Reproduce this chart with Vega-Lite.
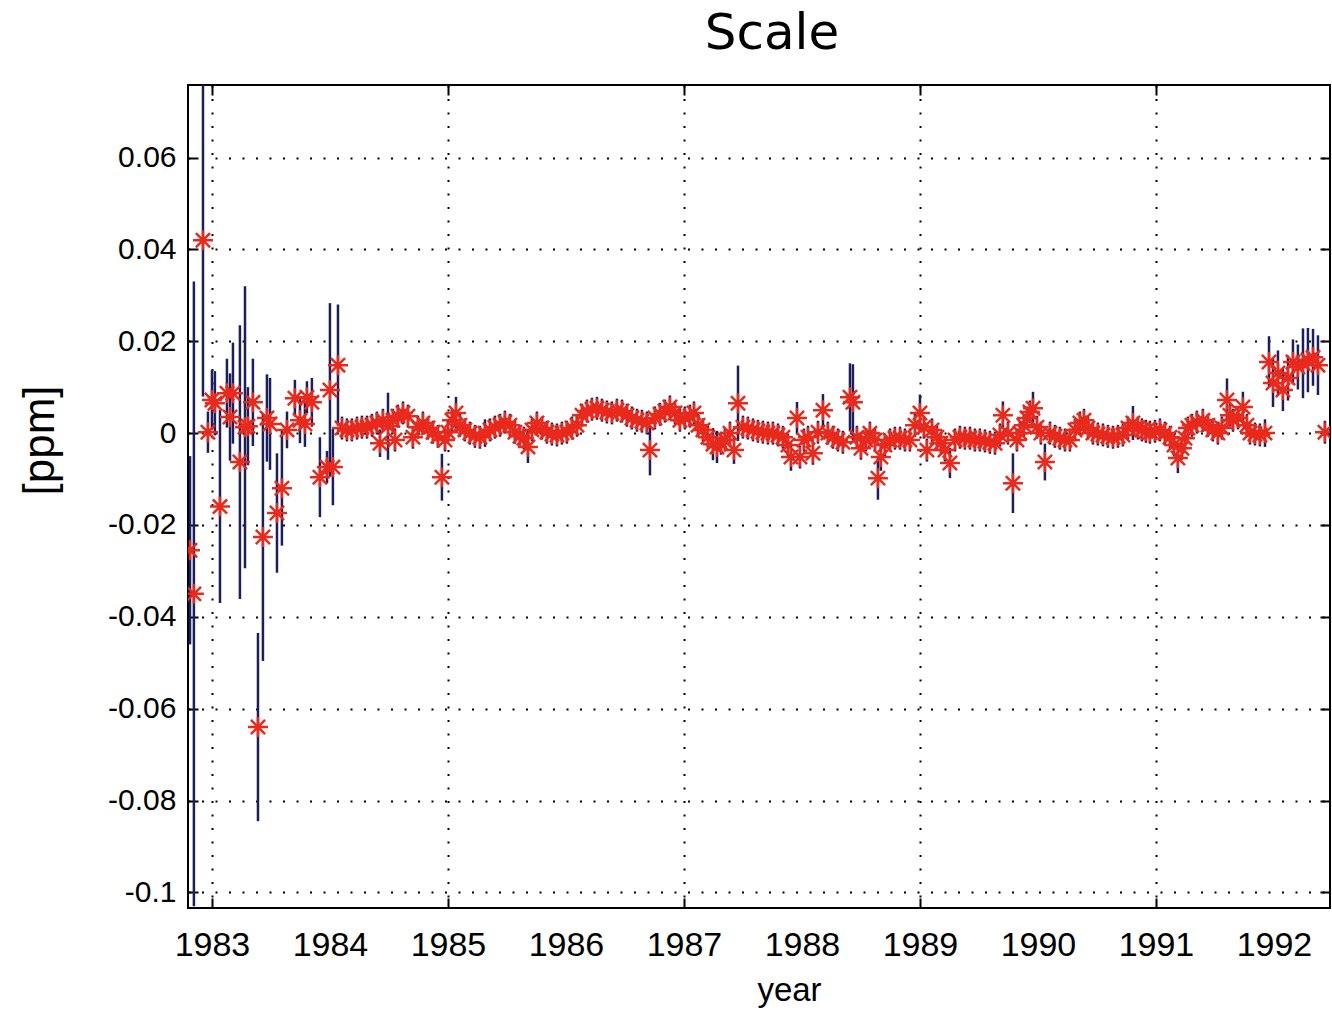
{
"$schema": "https://vega.github.io/schema/vega-lite/v6.json",
"width": 1142, "height": 823,
"autosize": {"type": "none"},
"padding": {"left": 188, "top": 85, "right": 2, "bottom": 102},
"background": "white",
"title": {"text": "Scale", "font": "DejaVu Sans", "fontSize": 50, "fontWeight": "normal", "color": "black", "anchor": "middle", "offset": 25, "dx": 13},
"config": {"view": {"stroke": "black", "strokeWidth": 2}},
"data": {"values": [
{"t":1982.814,"v":-0.0255,"e":0.0205},
{"t":1982.847,"v":-0.035,"e":0.068},
{"t":1982.924,"v":0.042,"e":0.034},
{"t":1982.966,"v":0.0002,"e":0.0045},
{"t":1983.0,"v":0.0072,"e":0.0065},
{"t":1983.025,"v":0.0065,"e":0.007},
{"t":1983.068,"v":-0.016,"e":0.021},
{"t":1983.127,"v":0.0087,"e":0.0075},
{"t":1983.153,"v":0.0035,"e":0.0095},
{"t":1983.178,"v":0.0087,"e":0.011},
{"t":1983.237,"v":-0.0063,"e":0.0298},
{"t":1983.280,"v":0.0013,"e":0.0307},
{"t":1983.305,"v":0.0015,"e":0.0085},
{"t":1983.347,"v":0.0067,"e":0.0095},
{"t":1983.390,"v":-0.064,"e":0.0205},
{"t":1983.432,"v":-0.0226,"e":0.027},
{"t":1983.466,"v":0.0033,"e":0.0095},
{"t":1983.492,"v":0.002,"e":0.01},
{"t":1983.551,"v":-0.0174,"e":0.013},
{"t":1983.593,"v":-0.012,"e":0.0125},
{"t":1983.636,"v":0.0007,"e":0.004},
{"t":1983.703,"v":0.0076,"e":0.004},
{"t":1983.746,"v":0.0028,"e":0.005},
{"t":1983.788,"v":0.002,"e":0.005},
{"t":1983.805,"v":0.0078,"e":0.0035},
{"t":1983.847,"v":0.0067,"e":0.0053},
{"t":1983.915,"v":-0.0096,"e":0.0087},
{"t":1983.975,"v":-0.0074,"e":0.0035},
{"t":1984.0,"v":0.0094,"e":0.0189},
{"t":1984.025,"v":-0.0074,"e":0.0083},
{"t":1984.068,"v":0.0148,"e":0.0132},
{"t":1984.102,"v":0.0011,"e":0.0025},
{"t":1984.144,"v":0.0007,"e":0.0025},
{"t":1984.186,"v":0.0007,"e":0.0025},
{"t":1984.229,"v":0.0011,"e":0.0025},
{"t":1984.271,"v":0.0013,"e":0.0025},
{"t":1984.314,"v":0.0013,"e":0.0025},
{"t":1984.356,"v":0.0017,"e":0.0025},
{"t":1984.398,"v":0.0022,"e":0.0025},
{"t":1984.424,"v":-0.0022,"e":0.003},
{"t":1984.449,"v":0.0028,"e":0.0025},
{"t":1984.492,"v":0.0015,"e":0.0073},
{"t":1984.534,"v":0.0028,"e":0.0025},
{"t":1984.551,"v":-0.0015,"e":0.0025},
{"t":1984.576,"v":0.0037,"e":0.0025},
{"t":1984.619,"v":0.0044,"e":0.0025},
{"t":1984.661,"v":0.0037,"e":0.0025},
{"t":1984.703,"v":-0.0009,"e":0.0025},
{"t":1984.746,"v":0.0013,"e":0.0025},
{"t":1984.788,"v":0.0022,"e":0.0025},
{"t":1984.831,"v":0.0011,"e":0.0025},
{"t":1984.873,"v":0.0002,"e":0.0025},
{"t":1984.915,"v":-0.0007,"e":0.0025},
{"t":1984.949,"v":-0.0096,"e":0.0051},
{"t":1984.975,"v":-0.0015,"e":0.0025},
{"t":1985.0,"v":0.0002,"e":0.0025},
{"t":1985.034,"v":0.0028,"e":0.0025},
{"t":1985.068,"v":0.0044,"e":0.0035},
{"t":1985.102,"v":0.0017,"e":0.0025},
{"t":1985.144,"v":0.0007,"e":0.0025},
{"t":1985.186,"v":0.0,"e":0.0025},
{"t":1985.229,"v":-0.0007,"e":0.0025},
{"t":1985.271,"v":-0.0009,"e":0.0025},
{"t":1985.314,"v":0.0,"e":0.003},
{"t":1985.356,"v":0.0007,"e":0.0025},
{"t":1985.398,"v":0.0013,"e":0.0025},
{"t":1985.441,"v":0.0017,"e":0.0025},
{"t":1985.483,"v":0.0024,"e":0.0025},
{"t":1985.525,"v":0.0017,"e":0.0025},
{"t":1985.568,"v":0.0002,"e":0.0025},
{"t":1985.610,"v":-0.0007,"e":0.0025},
{"t":1985.644,"v":-0.0011,"e":0.0025},
{"t":1985.678,"v":-0.003,"e":0.0035},
{"t":1985.712,"v":0.0007,"e":0.0025},
{"t":1985.754,"v":0.0022,"e":0.0025},
{"t":1985.797,"v":0.0011,"e":0.0025},
{"t":1985.839,"v":0.0002,"e":0.0025},
{"t":1985.881,"v":-0.0002,"e":0.0025},
{"t":1985.924,"v":-0.0004,"e":0.0025},
{"t":1985.966,"v":0.0,"e":0.0025},
{"t":1986.008,"v":0.0002,"e":0.0025},
{"t":1986.051,"v":0.0011,"e":0.0025},
{"t":1986.093,"v":0.0017,"e":0.0025},
{"t":1986.136,"v":0.0039,"e":0.0025},
{"t":1986.178,"v":0.0048,"e":0.0025},
{"t":1986.220,"v":0.0052,"e":0.0025},
{"t":1986.263,"v":0.0054,"e":0.0025},
{"t":1986.305,"v":0.005,"e":0.0025},
{"t":1986.347,"v":0.0046,"e":0.0025},
{"t":1986.390,"v":0.0044,"e":0.0025},
{"t":1986.432,"v":0.005,"e":0.0025},
{"t":1986.475,"v":0.0048,"e":0.0025},
{"t":1986.517,"v":0.0039,"e":0.0025},
{"t":1986.559,"v":0.0033,"e":0.0025},
{"t":1986.602,"v":0.0028,"e":0.0025},
{"t":1986.644,"v":0.0026,"e":0.0025},
{"t":1986.686,"v":0.0022,"e":0.0025},
{"t":1986.712,"v":-0.0037,"e":0.0055},
{"t":1986.754,"v":0.0033,"e":0.0025},
{"t":1986.797,"v":0.0041,"e":0.0025},
{"t":1986.839,"v":0.0048,"e":0.0025},
{"t":1986.881,"v":0.0057,"e":0.0025},
{"t":1986.924,"v":0.0044,"e":0.0025},
{"t":1986.966,"v":0.0028,"e":0.0025},
{"t":1987.008,"v":0.0033,"e":0.0025},
{"t":1987.051,"v":0.0037,"e":0.0025},
{"t":1987.085,"v":0.0044,"e":0.0025},
{"t":1987.119,"v":0.0017,"e":0.0025},
{"t":1987.161,"v":0.0007,"e":0.0025},
{"t":1987.203,"v":-0.0009,"e":0.0025},
{"t":1987.246,"v":-0.0024,"e":0.0035},
{"t":1987.280,"v":-0.003,"e":0.0035},
{"t":1987.314,"v":-0.0022,"e":0.0025},
{"t":1987.347,"v":-0.0015,"e":0.0025},
{"t":1987.390,"v":0.0,"e":0.0025},
{"t":1987.424,"v":-0.0037,"e":0.003},
{"t":1987.458,"v":0.0065,"e":0.0082},
{"t":1987.500,"v":0.0013,"e":0.0025},
{"t":1987.542,"v":0.0011,"e":0.0025},
{"t":1987.585,"v":0.0007,"e":0.0025},
{"t":1987.627,"v":0.0004,"e":0.0025},
{"t":1987.669,"v":0.0002,"e":0.0025},
{"t":1987.712,"v":0.0,"e":0.0025},
{"t":1987.754,"v":0.0,"e":0.0025},
{"t":1987.797,"v":-0.0004,"e":0.0025},
{"t":1987.839,"v":-0.0009,"e":0.0025},
{"t":1987.881,"v":-0.0026,"e":0.0025},
{"t":1987.907,"v":-0.0052,"e":0.003},
{"t":1987.958,"v":0.0033,"e":0.0035},
{"t":1987.983,"v":-0.0052,"e":0.0025},
{"t":1988.017,"v":-0.0015,"e":0.0025},
{"t":1988.051,"v":-0.0009,"e":0.0025},
{"t":1988.093,"v":-0.0044,"e":0.0025},
{"t":1988.136,"v":0.0002,"e":0.0025},
{"t":1988.178,"v":0.005,"e":0.0035},
{"t":1988.220,"v":0.0,"e":0.0025},
{"t":1988.263,"v":-0.0009,"e":0.0025},
{"t":1988.305,"v":-0.0015,"e":0.0025},
{"t":1988.347,"v":-0.002,"e":0.0025},
{"t":1988.407,"v":0.0078,"e":0.0074},
{"t":1988.432,"v":0.0067,"e":0.0083},
{"t":1988.466,"v":-0.0009,"e":0.0025},
{"t":1988.500,"v":-0.0033,"e":0.0025},
{"t":1988.542,"v":-0.0015,"e":0.0025},
{"t":1988.576,"v":0.0,"e":0.0025},
{"t":1988.619,"v":-0.0015,"e":0.0025},
{"t":1988.644,"v":-0.0098,"e":0.0047},
{"t":1988.669,"v":-0.0052,"e":0.003},
{"t":1988.703,"v":-0.0026,"e":0.0025},
{"t":1988.746,"v":-0.0015,"e":0.0025},
{"t":1988.788,"v":-0.0011,"e":0.0025},
{"t":1988.831,"v":-0.0011,"e":0.0025},
{"t":1988.873,"v":-0.0015,"e":0.0025},
{"t":1988.915,"v":-0.0015,"e":0.0025},
{"t":1988.958,"v":0.0017,"e":0.0025},
{"t":1989.000,"v":0.0044,"e":0.004},
{"t":1989.034,"v":0.0013,"e":0.0025},
{"t":1989.059,"v":-0.0037,"e":0.0025},
{"t":1989.102,"v":0.0007,"e":0.0025},
{"t":1989.144,"v":-0.0009,"e":0.0025},
{"t":1989.178,"v":-0.0022,"e":0.0025},
{"t":1989.212,"v":-0.0037,"e":0.0025},
{"t":1989.254,"v":-0.0065,"e":0.0033},
{"t":1989.297,"v":-0.0015,"e":0.0025},
{"t":1989.339,"v":-0.0009,"e":0.0025},
{"t":1989.381,"v":-0.0011,"e":0.0025},
{"t":1989.424,"v":-0.0011,"e":0.0025},
{"t":1989.466,"v":-0.0015,"e":0.0025},
{"t":1989.508,"v":-0.0015,"e":0.0025},
{"t":1989.551,"v":-0.0017,"e":0.0025},
{"t":1989.593,"v":-0.002,"e":0.0025},
{"t":1989.636,"v":-0.0022,"e":0.0025},
{"t":1989.678,"v":-0.0004,"e":0.0025},
{"t":1989.703,"v":0.0039,"e":0.003},
{"t":1989.746,"v":0.0,"e":0.0025},
{"t":1989.788,"v":-0.0109,"e":0.0065},
{"t":1989.822,"v":-0.0015,"e":0.0025},
{"t":1989.847,"v":0.0,"e":0.0025},
{"t":1989.881,"v":0.0017,"e":0.0025},
{"t":1989.907,"v":0.0033,"e":0.0025},
{"t":1989.932,"v":0.0046,"e":0.0025},
{"t":1989.958,"v":0.0054,"e":0.0036},
{"t":1989.992,"v":0.0013,"e":0.0025},
{"t":1990.025,"v":0.0,"e":0.0025},
{"t":1990.059,"v":-0.0063,"e":0.004},
{"t":1990.102,"v":0.0,"e":0.0025},
{"t":1990.144,"v":-0.0007,"e":0.0025},
{"t":1990.186,"v":-0.0011,"e":0.0025},
{"t":1990.229,"v":-0.0015,"e":0.0025},
{"t":1990.271,"v":-0.0015,"e":0.0025},
{"t":1990.314,"v":0.0007,"e":0.0025},
{"t":1990.356,"v":0.0022,"e":0.0025},
{"t":1990.390,"v":0.0028,"e":0.0025},
{"t":1990.424,"v":0.0011,"e":0.0025},
{"t":1990.466,"v":0.0,"e":0.0025},
{"t":1990.508,"v":-0.0002,"e":0.0025},
{"t":1990.551,"v":-0.0004,"e":0.0025},
{"t":1990.593,"v":-0.0007,"e":0.0025},
{"t":1990.636,"v":-0.0009,"e":0.0025},
{"t":1990.678,"v":-0.0007,"e":0.0025},
{"t":1990.720,"v":-0.0004,"e":0.0025},
{"t":1990.763,"v":0.0011,"e":0.0025},
{"t":1990.805,"v":0.0022,"e":0.0037},
{"t":1990.847,"v":0.0011,"e":0.0025},
{"t":1990.881,"v":0.0007,"e":0.0025},
{"t":1990.915,"v":0.0004,"e":0.0025},
{"t":1990.949,"v":0.0002,"e":0.0025},
{"t":1990.992,"v":0.0004,"e":0.0025},
{"t":1991.034,"v":0.0007,"e":0.0025},
{"t":1991.076,"v":0.0,"e":0.0025},
{"t":1991.119,"v":-0.0009,"e":0.0025},
{"t":1991.153,"v":-0.0026,"e":0.0025},
{"t":1991.186,"v":-0.0054,"e":0.0033},
{"t":1991.220,"v":-0.0033,"e":0.0025},
{"t":1991.246,"v":-0.0011,"e":0.0025},
{"t":1991.271,"v":0.0011,"e":0.0025},
{"t":1991.305,"v":0.0017,"e":0.0025},
{"t":1991.347,"v":0.0024,"e":0.0025},
{"t":1991.398,"v":0.0028,"e":0.0025},
{"t":1991.441,"v":0.0017,"e":0.0025},
{"t":1991.483,"v":0.0007,"e":0.0025},
{"t":1991.525,"v":0.0,"e":0.0025},
{"t":1991.559,"v":0.0011,"e":0.0025},
{"t":1991.602,"v":0.0072,"e":0.0047},
{"t":1991.627,"v":0.0039,"e":0.0025},
{"t":1991.653,"v":0.0028,"e":0.0025},
{"t":1991.695,"v":0.0033,"e":0.0025},
{"t":1991.737,"v":0.0057,"e":0.0033},
{"t":1991.771,"v":0.0017,"e":0.0025},
{"t":1991.797,"v":0.0,"e":0.0025},
{"t":1991.839,"v":-0.0002,"e":0.0025},
{"t":1991.881,"v":-0.0004,"e":0.0025},
{"t":1991.924,"v":0.0,"e":0.003},
{"t":1991.958,"v":0.0155,"e":0.0056},
{"t":1991.992,"v":0.0109,"e":0.0052},
{"t":1992.034,"v":0.0131,"e":0.0049},
{"t":1992.076,"v":0.0094,"e":0.0046},
{"t":1992.119,"v":0.012,"e":0.0049},
{"t":1992.161,"v":0.0155,"e":0.0049},
{"t":1992.203,"v":0.0144,"e":0.0049},
{"t":1992.246,"v":0.0152,"e":0.0076},
{"t":1992.288,"v":0.0159,"e":0.007},
{"t":1992.331,"v":0.0165,"e":0.0062},
{"t":1992.373,"v":0.0148,"e":0.0065},
{"t":1992.432,"v":0.0002,"e":0.0025}
]},
"layer": [
{
"layer": [
{"mark": {"type": "errorbar", "color": "#1b1f5e", "thickness": 2.5, "clip": true},
 "encoding": {
  "x": {"field": "t", "type": "quantitative", "scale": {"domain": [1982.797, 1992.475], "nice": false, "zero": false},
   "axis": {"orient": "bottom", "values": [1983,1984,1985,1986,1987,1988,1989,1990,1991,1992], "format": "d", "domain": false,
    "grid": true, "gridColor": "black", "gridDash": [2, 11.5], "gridWidth": 2,
    "gridOpacity": {"condition": {"test": "datum.value % 2 == 1", "value": 1}, "value": 0},
    "tickOpacity": {"condition": {"test": "datum.value % 2 == 1", "value": 1}, "value": 0},
    "ticks": true, "tickColor": "black", "tickWidth": 2, "tickSize": -10,
    "labelFont": "Liberation Sans", "labelFontSize": 34, "labelColor": "black", "labelPadding": 30, "labelFlush": false, "labelOverlap": false,
    "title": "year", "titleFont": "Liberation Sans", "titleFontSize": 33, "titleFontWeight": "normal", "titleColor": "black",
    "titleX": 601, "titleY": 92, "titleBaseline": "alphabetic", "titleAlign": "center"}},
  "y": {"field": "v", "type": "quantitative", "scale": {"domain": [-0.1034, 0.0758], "nice": false, "zero": false},
   "axis": {"orient": "left", "values": [-0.1,-0.08,-0.06,-0.04,-0.02,0,0.02,0.04,0.06], "domain": false,
    "labelExpr": "datum.value == 0 ? '0' : (datum.value < 0 ? '-' : '') + format(abs(datum.value), '~g')",
    "grid": true, "gridColor": "black", "gridDash": [2, 11.5], "gridWidth": 2,
    "ticks": true, "tickColor": "black", "tickWidth": 2, "tickSize": -10,
    "labelFont": "Liberation Sans", "labelFontSize": 30, "labelColor": "black", "labelPadding": 22, "labelFlush": false, "labelOverlap": false,
    "title": "[ppm]", "titleFont": "Liberation Sans", "titleFontSize": 44, "titleFontWeight": "normal", "titleColor": "black",
    "titleX": -148, "titleY": 355, "titleAngle": -90, "titleAlign": "center", "titleBaseline": "middle"}},
  "yError": {"field": "e"}
 }},
{"mark": {"type": "point", "shape": "M-1,0L1,0M0,-1L0,1M-0.71,-0.71L0.71,0.71M-0.71,0.71L0.71,-0.71", "filled": false, "stroke": "#e8291c", "strokeWidth": 2.5, "size": 400, "opacity": 1, "clip": true},
 "encoding": {
  "x": {"field": "t", "type": "quantitative"},
  "y": {"field": "v", "type": "quantitative"}
 }}
]
},
{"mark": {"type": "point", "opacity": 0},
 "encoding": {
  "x": {"field": "t", "type": "quantitative", "scale": {"domain": [1982.797, 1992.475], "nice": false, "zero": false},
   "axis": {"orient": "top", "values": [1983,1985,1987,1989,1991], "labels": false, "grid": false, "domain": false, "ticks": true, "tickColor": "black", "tickWidth": 2, "tickSize": -10, "title": null}},
  "y": {"field": "v", "type": "quantitative", "scale": {"domain": [-0.1034, 0.0758], "nice": false, "zero": false},
   "axis": {"orient": "right", "values": [-0.1,-0.08,-0.06,-0.04,-0.02,0,0.02,0.04,0.06], "labels": false, "grid": false, "domain": false, "ticks": true, "tickColor": "black", "tickWidth": 2, "tickSize": -10, "title": null}}
 }}
],
"resolve": {"scale": {"x": "independent", "y": "independent"}, "axis": {"x": "independent", "y": "independent"}}
}
